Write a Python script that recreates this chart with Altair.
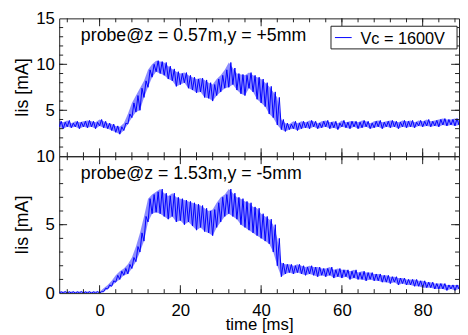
import altair as alt
import pandas as pd

# ---------------- data ----------------
T0 = -10  # first sample time [ms]; one lo/hi envelope pair per ms

TOP_LO = [3.2, 3.0, 3.2, 3.1, 3.2, 3.0, 3.2, 3.1, 3.2, 3.0,
          3.3, 3.1, 3.0, 2.8, 2.6, 2.4, 2.8, 3.5, 4.2, 4.8,
          5.0, 6.4, 7.5, 8.6, 9.2, 9.0, 8.8, 8.4, 8.2, 7.6,
          7.8, 8.0, 7.4, 7.2, 6.9, 7.0, 6.4, 6.3, 6.0, 6.6,
          7.0, 7.4, 7.5, 7.8, 7.2, 6.8, 6.6, 7.4, 7.0, 6.2,
          5.8, 5.4, 4.6, 4.2, 3.4, 2.9, 2.7, 2.9, 3.0, 2.8,
          3.0, 3.1, 3.0, 3.2, 3.0, 3.1, 3.2, 3.0, 3.1, 2.9,
          3.2, 3.1, 3.0, 3.2, 3.0, 3.1, 3.2, 3.0, 3.1, 3.2,
          3.0, 3.2, 3.1, 3.2, 3.0, 3.2, 3.1, 3.2, 3.1, 3.3,
          3.2, 3.3, 3.2, 3.3, 3.2, 3.4, 3.3, 3.4, 3.3, 3.4]
TOP_HI = [3.8, 3.7, 3.9, 3.6, 3.8, 3.7, 3.8, 3.9, 3.8, 3.7,
          4.0, 3.8, 3.6, 3.5, 3.3, 3.2, 3.6, 4.6, 5.8, 6.6,
          7.4, 8.2, 9.4, 10.0, 10.4, 10.3, 10.2, 9.8, 9.5, 9.2,
          9.0, 9.1, 8.8, 8.6, 8.4, 8.5, 8.3, 8.0, 7.8, 8.4,
          8.8, 9.4, 10.2, 9.6, 9.0, 8.9, 8.8, 9.1, 8.8, 8.6,
          8.4, 8.0, 7.6, 7.0, 6.4, 4.0, 3.6, 3.5, 3.8, 3.6,
          3.8, 3.7, 3.9, 3.8, 3.6, 3.8, 3.9, 3.7, 3.8, 3.6,
          3.9, 3.7, 3.8, 3.8, 3.7, 3.9, 3.8, 3.6, 3.8, 3.9,
          3.7, 3.8, 3.9, 3.8, 3.7, 3.9, 3.8, 3.9, 3.7, 3.9,
          3.8, 4.0, 3.8, 3.9, 4.0, 4.1, 4.0, 4.0, 4.1, 4.0]

BOT_LO = [0.0, 0.02, 0.0, 0.01, 0.0, 0.02, 0.0, 0.01, 0.0, 0.02,
          0.0, 0.1, 0.3, 0.5, 0.8, 1.0, 1.3, 1.4, 1.8, 2.3,
          3.0, 3.8, 5.2, 5.8, 5.9, 5.8, 5.6, 5.4, 5.6, 5.2,
          5.3, 5.0, 5.2, 4.9, 4.6, 4.8, 4.5, 4.4, 4.2, 4.8,
          5.2, 5.6, 5.8, 5.6, 5.4, 5.0, 4.8, 4.6, 4.4, 4.2,
          4.0, 3.8, 3.6, 3.0, 2.0, 1.2, 1.4, 1.5, 1.4, 1.5,
          1.4, 1.3, 1.4, 1.3, 1.2, 1.3, 1.2, 1.3, 1.1, 1.2,
          1.1, 1.2, 1.0, 1.1, 1.0, 1.0, 0.9, 1.0, 0.9, 0.9,
          0.8, 0.8, 0.7, 0.8, 0.6, 0.7, 0.6, 0.6, 0.5, 0.5,
          0.4, 0.4, 0.4, 0.3, 0.3, 0.3, 0.2, 0.3, 0.2, 0.3]
BOT_HI = [0.1, 0.12, 0.1, 0.11, 0.1, 0.12, 0.1, 0.11, 0.1, 0.12,
          0.1, 0.35, 0.6, 0.9, 1.3, 1.6, 1.8, 2.1, 2.6, 3.4,
          4.4, 5.6, 6.9, 7.2, 7.4, 7.6, 7.3, 7.1, 7.3, 7.0,
          6.9, 6.8, 6.7, 6.6, 6.5, 6.4, 6.2, 6.0, 6.1, 6.6,
          7.0, 7.2, 7.6, 7.3, 7.0, 6.9, 6.7, 6.6, 6.3, 6.2,
          5.8, 5.6, 5.4, 5.0, 4.0, 2.2, 2.1, 2.1, 2.0, 2.1,
          2.0, 1.9, 2.0, 1.9, 1.9, 1.8, 1.8, 1.9, 1.7, 1.8,
          1.7, 1.7, 1.6, 1.7, 1.5, 1.6, 1.5, 1.5, 1.4, 1.4,
          1.3, 1.3, 1.2, 1.2, 1.1, 1.1, 1.0, 1.0, 1.0, 0.9,
          0.9, 0.8, 0.8, 0.7, 0.7, 0.7, 0.6, 0.6, 0.6, 0.6]

SERIES_NAME = "Vc = 1600V"
TOP_NOTE = "probe@z = 0.57m,y = +5mm"
BOT_NOTE = "probe@z = 1.53m,y = -5mm"
X_TITLE = "time [ms]"
Y_TITLE = "Iis [mA]"

X_DOMAIN = [-10, 89]
X_LABELS = [0, 20, 40, 60, 80]
X_MINOR = list(range(-8, 89, 4))
TOP_DOMAIN = [0, 15]
TOP_LABELS = [5, 10, 15]
TOP_MAJOR = [5, 10]
TOP_MINOR = list(range(1, 15))
BOT_DOMAIN = [0, 10]
BOT_LABELS = [0, 5, 10]
BOT_MAJOR = [5]
BOT_MINOR = list(range(1, 10))

# ---------------- styling ----------------
W = 406
FONT = "Liberation Sans"
BLUE = "#0000ff"
FRAME = "#222222"
MAJ = 8
MIN = 4
TICK_FS = 17


def envelope_frame(lo, hi):
    return pd.DataFrame({"t": [T0 + i for i in range(len(lo))], "lo": lo, "hi": hi})


def trace_frame(lo, hi):
    # the trace swings between the envelope read for each millisecond
    rows = []
    for i, (a, b) in enumerate(zip(lo, hi)):
        t = T0 + i
        rows.append({"t": t, "v": a})
        rows.append({"t": t + 0.5, "v": b})
    return pd.DataFrame(rows)


def panel(lo, hi, ydom, ylabels, ymajor, yminor, note, h, bottom, legend):
    xs = alt.Scale(domain=X_DOMAIN, nice=False, zero=False)
    ys = alt.Scale(domain=ydom, nice=False, zero=False)
    if bottom:
        xaxis = alt.Axis(values=X_LABELS, ticks=False, tickSize=0, domain=False,
                         grid=False, labelFontSize=TICK_FS, labelPadding=10, labelFont=FONT,
                         labelColor="black", labelFlush=False, title=X_TITLE,
                         titleFont=FONT, titleFontSize=17, titleFontWeight="normal",
                         titleColor="black", titleY=36.5, titleBaseline="alphabetic")
    else:
        xaxis = None
    yaxis = alt.Axis(values=ylabels, ticks=False, tickSize=0, domain=False, grid=False,
                     labelFontSize=TICK_FS, labelPadding=5, labelFont=FONT, labelColor="black",
                     labelFlush=False, labelOverlap=False, title=Y_TITLE, titleFont=FONT,
                     titleFontSize=18, titleFontWeight="normal", titleColor="black",
                     titleX=-37, titleY=h / 2, titleBaseline="middle", titleAlign="center")

    xe = alt.X("t:Q", scale=xs, axis=xaxis)
    ye = alt.Y("v:Q", scale=ys, axis=yaxis)

    band = alt.Chart(envelope_frame(lo, hi)).mark_area(
        color=BLUE, opacity=0.45, clip=True, interpolate="linear"
    ).encode(x=xe, y=alt.Y("lo:Q", scale=ys, axis=yaxis), y2="hi:Q")

    line = alt.Chart(trace_frame(lo, hi)).mark_line(
        color=BLUE, strokeWidth=1, clip=True
    ).encode(x=xe, y=ye)

    layers = [band, line]

    def xt(vals, length):
        base = alt.Chart(pd.DataFrame({"t": vals})).mark_rule(color=FRAME, strokeWidth=1)
        return [base.encode(x=xe, y=alt.value(h), y2=alt.value(h - length)),
                base.encode(x=xe, y=alt.value(0), y2=alt.value(length))]

    def yt(vals, length):
        base = alt.Chart(pd.DataFrame({"v": vals})).mark_rule(color=FRAME, strokeWidth=1)
        return [base.encode(y=ye, x=alt.value(0), x2=alt.value(length)),
                base.encode(y=ye, x=alt.value(W), x2=alt.value(W - length))]

    layers += xt(X_MINOR, MIN) + xt(X_LABELS, MAJ)
    layers += yt(yminor, MIN) + yt(ymajor, MAJ)

    layers.append(
        alt.Chart(pd.DataFrame({"s": [note]})).mark_text(
            align="left", baseline="alphabetic", font=FONT, fontSize=18, color="black"
        ).encode(x=alt.value(22), y=alt.value(23), text="s:N")
    )

    if legend:
        ld = pd.DataFrame({"s": [SERIES_NAME]})
        layers.append(alt.Chart(ld).mark_rect(fill="white", stroke=FRAME, strokeWidth=1).encode(
            x=alt.value(276), x2=alt.value(404), y=alt.value(8), y2=alt.value(31)))
        layers.append(alt.Chart(ld).mark_rule(color=BLUE, strokeWidth=1).encode(
            x=alt.value(280), x2=alt.value(297), y=alt.value(19.5)))
        layers.append(alt.Chart(ld).mark_text(
            align="left", baseline="alphabetic", font=FONT, fontSize=16.5, color="black"
        ).encode(x=alt.value(306), y=alt.value(26), text="s:N"))

    return alt.layer(*layers).properties(width=W, height=h)


top = panel(TOP_LO, TOP_HI, TOP_DOMAIN, TOP_LABELS, TOP_MAJOR, TOP_MINOR, TOP_NOTE,
            140, False, True)
bot = panel(BOT_LO, BOT_HI, BOT_DOMAIN, BOT_LABELS, BOT_MAJOR, BOT_MINOR, BOT_NOTE,
            139, True, False)

chart = alt.vconcat(top, bot, spacing=0, bounds="flush").properties(
    padding={"left": 5, "top": -2, "right": 0, "bottom": 0},
    background="white",
).configure_view(stroke=FRAME, strokeWidth=1)

chart.save("out.html", embed_options={"renderer": "svg", "actions": False})
